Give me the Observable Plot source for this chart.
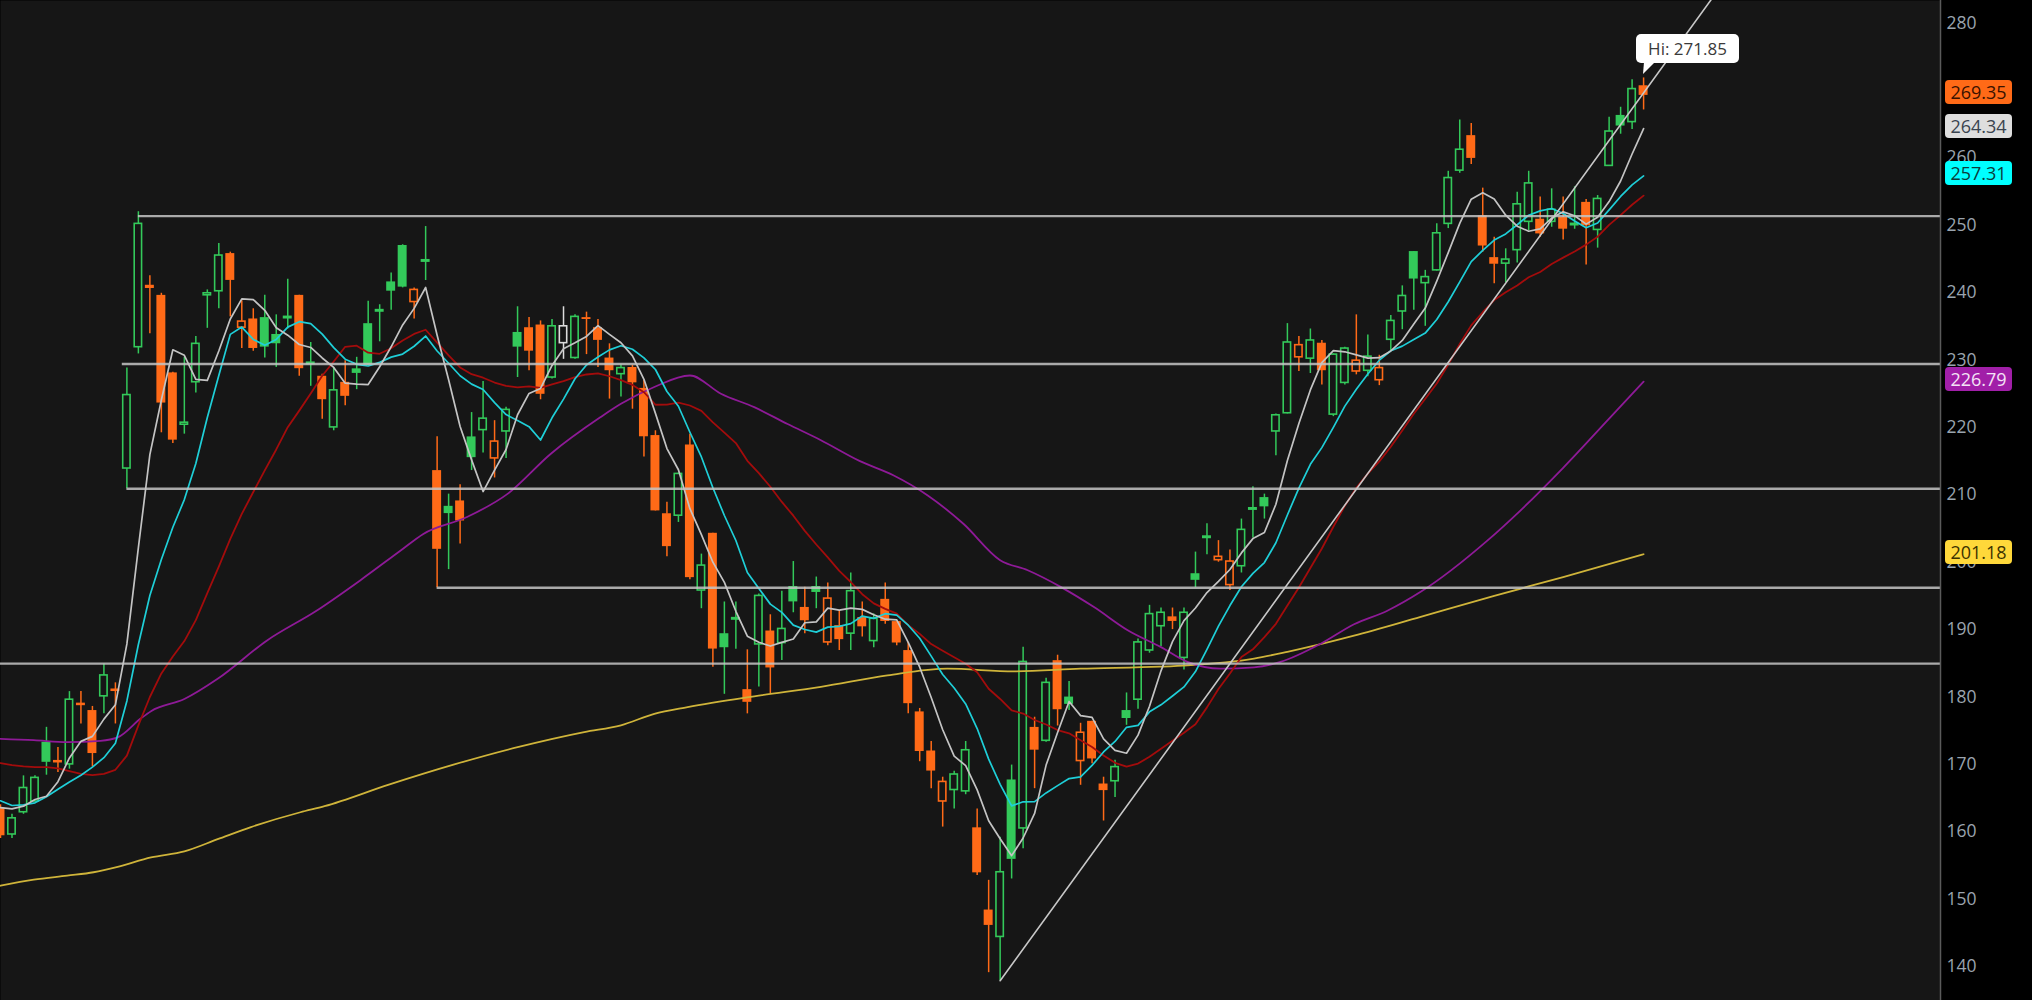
<!DOCTYPE html>
<html><head><meta charset="utf-8">
<script src="https://cdn.jsdelivr.net/npm/d3@7"></script>
<script src="https://cdn.jsdelivr.net/npm/@observablehq/plot@0.6"></script>
<style>
html,body{margin:0;padding:0;background:#000;}
#wrap{position:relative;width:2032px;height:1000px;overflow:hidden;font-family:"Open Sans",sans-serif;}
.badge{position:absolute;left:1945px;width:67px;height:24px;line-height:24px;border-radius:4px;text-align:center;font-size:18px;box-sizing:border-box;}
.hi{position:absolute;background:#fff;border-radius:5px;color:#3a3a3a;font-size:17px;height:29px;line-height:29px;padding:0 12px;white-space:nowrap;}
</style></head><body><div id="wrap"></div>
<script>
// ---- data ----
const opens = [163.4,159.6,162.9,164.5,173.2,170.5,170.0,179.0,177.9,180.1,181.1,213.9,231.9,241.0,239.5,228.0,220.4,226.7,239.6,240.2,245.7,234.8,236.0,236.2,233.7,236.2,239.5,229.4,227.5,220.0,226.6,228.6,235.3,237.2,241.5,246.9,238.6,244.6,213.5,208.2,209.0,218.5,219.6,215.4,219.4,234.0,234.7,235.1,227.4,232.5,230.3,236.2,234.7,230.2,227.9,228.8,225.7,218.7,207.1,206.9,217.3,195.8,204.2,189.3,191.5,181.0,187.8,189.7,188.0,196.3,193.2,196.3,188.1,190.5,189.4,191.7,188.3,194.4,191.1,186.8,177.7,171.9,164.5,166.2,166.0,160.5,148.3,144.4,167.6,160.5,175.4,173.5,185.3,179.9,170.5,176.3,167.0,167.5,177.9,179.6,186.9,190.5,191.8,185.8,198.2,203.6,200.3,196.6,199.4,207.8,209.5,219.4,222.1,230.4,230.2,232.4,221.9,226.6,228.3,228.4,227.0,233.0,237.2,246.0,241.4,243.3,250.2,258.1,263.2,251.3,245.1,244.3,246.3,250.5,250.8,250.5,251.1,250.0,253.3,249.3,258.8,266.2,265.3,270.6];
const highs = [164.0,162.6,168.3,168.3,175.5,172.5,180.8,180.8,178.6,184.9,182.1,228.8,252.0,242.5,239.9,228.2,230.4,233.5,240.4,247.3,246.0,238.8,237.6,239.6,236.7,242.0,239.6,232.6,227.9,228.9,229.9,230.4,238.7,238.2,242.9,247.1,240.7,249.8,218.6,210.1,211.5,222.2,226.8,221.0,223.0,237.9,236.3,235.8,236.0,237.9,236.7,237.1,236.0,232.4,229.3,229.2,227.0,219.5,208.9,213.2,219.0,201.2,204.3,194.1,194.1,187.0,195.3,192.2,195.7,200.1,196.3,197.8,196.9,192.8,198.4,194.1,192.3,196.9,191.3,188.1,178.3,173.4,168.1,169.0,173.4,163.4,152.8,159.2,169.9,187.4,177.0,182.8,186.2,182.3,176.1,176.4,168.1,170.6,180.6,188.6,193.6,193.2,193.2,193.2,201.5,205.7,203.2,201.8,206.4,211.2,210.1,222.0,235.4,233.5,234.6,232.9,230.9,231.9,236.7,233.7,230.7,236.6,241.0,246.1,243.3,250.2,258.0,265.6,265.1,255.5,248.2,246.5,254.9,258.0,254.2,255.4,254.2,255.7,253.8,254.4,266.0,267.5,271.6,271.85];
const lows = [159.0,159.0,162.6,164.4,168.4,168.8,169.3,176.0,169.6,177.5,176.0,210.9,230.9,233.9,219.2,217.6,219.0,225.1,234.7,237.6,236.4,231.7,231.3,230.3,228.9,234.6,227.6,226.1,221.2,219.5,223.2,225.6,229.2,232.7,237.4,240.7,236.1,241.8,196.2,198.9,202.7,213.6,216.2,212.5,215.4,227.4,228.4,224.1,227.2,230.1,230.1,230.8,228.9,224.2,224.5,222.7,215.6,207.6,200.8,205.9,197.4,193.1,184.4,180.4,187.1,177.5,181.5,180.5,185.4,192.5,189.4,193.1,187.6,186.9,186.9,188.9,187.3,190.8,187.6,177.5,170.4,166.4,160.7,163.4,165.5,153.5,139.1,137.9,153.0,157.5,166.4,173.3,175.7,178.0,166.9,170.1,161.6,165.1,175.8,178.2,186.5,187.5,190.0,184.0,196.2,201.1,200.0,195.8,198.4,203.6,206.4,215.8,222.0,228.3,228.0,226.3,221.6,226.3,227.8,227.5,226.2,231.4,234.5,237.4,235.0,243.2,249.5,257.7,259.0,246.0,241.3,241.5,244.4,249.2,248.2,249.7,247.8,249.4,244.1,246.6,258.7,263.5,264.2,267.1];
const closes = [159.5,162.0,166.5,168.0,170.4,170.3,179.6,178.8,171.7,183.2,180.9,224.8,250.2,240.7,223.7,218.2,220.7,232.4,239.9,245.5,241.9,235.7,231.8,232.0,232.5,236.4,228.8,229.6,224.2,225.5,224.7,228.1,229.3,237.4,240.3,240.9,240.4,244.8,202.0,207.3,206.2,215.6,221.3,217.9,222.6,232.0,231.4,225.0,235.0,235.0,236.4,236.1,233.0,228.5,228.8,226.7,218.7,207.7,202.4,213.1,197.8,199.5,187.2,187.4,191.7,179.3,195.0,184.4,190.1,194.2,191.4,195.6,194.6,188.6,195.7,190.5,191.6,191.3,188.1,179.1,172.0,169.1,167.4,168.5,172.1,154.0,146.2,154.0,156.0,185.2,172.2,182.1,178.2,179.0,174.7,170.9,166.2,169.6,176.9,188.1,192.3,192.5,191.3,192.5,197.4,203.8,200.8,200.1,204.8,208.0,208.3,221.8,232.6,232.2,232.9,228.5,230.8,231.7,229.9,230.5,228.8,235.8,239.5,242.1,242.3,248.8,257.0,261.2,260.0,247.0,244.3,244.9,253.1,256.2,248.8,252.3,249.5,250.2,250.0,253.9,263.9,264.8,270.2,269.35];
const prevClose0 = 163.6;

const ma5 = [163.6,163.4,163.8,164.8,165.28,167.44,170.96,173.42,174.16,176.72,178.84,187.88,202.16,215.96,224.06,231.52,230.70,227.14,226.98,231.34,236.08,239.08,238.96,237.38,234.78,233.68,232.30,231.86,230.30,228.90,226.56,226.42,226.36,229.00,231.96,235.20,237.66,240.76,233.68,227.08,220.14,215.18,210.48,213.66,216.72,221.88,225.04,225.78,229.20,231.68,232.56,233.50,235.10,233.80,232.56,230.62,227.14,222.08,216.86,213.72,207.94,204.10,200.00,197.00,192.72,189.02,188.12,187.56,188.10,188.60,191.02,191.14,193.18,192.88,193.18,193.00,192.20,191.54,191.44,188.12,184.42,179.92,175.14,171.22,169.82,166.22,161.64,158.96,156.46,159.08,162.72,169.90,174.74,179.34,177.24,176.98,173.80,172.08,171.66,174.34,178.62,183.88,188.22,191.34,193.20,195.50,197.16,198.92,201.38,203.50,204.40,208.60,215.10,220.58,225.56,229.60,231.40,231.22,230.76,230.28,230.34,231.34,232.90,235.34,237.70,241.70,245.94,250.28,253.86,254.80,253.90,251.48,249.86,249.10,249.46,251.06,251.98,251.40,250.16,251.18,253.50,256.56,260.56,264.34];
const ma10 = [164.6,163.9,164.0,164.3,165.2,166.3,167.4,168.4,169.6,171.00,173.14,179.42,187.79,195.06,200.39,205.18,209.29,214.65,221.47,227.70,233.80,234.89,233.05,232.18,233.06,234.88,235.69,235.41,233.84,231.84,230.12,229.36,229.11,229.65,230.43,230.88,232.04,233.56,231.34,229.52,227.67,226.42,225.62,223.67,221.90,221.01,220.11,218.13,221.43,224.20,227.22,229.27,230.44,231.50,232.12,231.59,230.32,228.59,225.33,223.14,219.28,215.62,211.04,206.93,203.22,198.48,196.11,193.78,192.55,190.66,190.02,189.63,190.37,190.49,190.89,192.01,191.67,192.36,192.16,190.65,188.71,186.06,183.34,181.33,178.97,175.32,170.78,167.05,163.84,164.45,164.47,165.77,166.85,167.90,168.16,169.85,171.85,173.41,175.50,175.79,177.80,178.84,180.15,181.50,183.77,187.06,190.52,193.57,196.36,198.35,199.95,202.88,207.01,210.98,214.53,217.00,220.00,223.16,225.67,227.92,229.97,231.37,232.06,233.05,233.99,236.02,238.64,241.59,244.60,246.25,247.80,248.71,250.07,251.48,252.13,252.48,251.73,250.63,249.63,250.32,252.28,254.27,255.98,257.31];
const ma20 = [170.2,169.9,169.7,169.6,169.6,169.4,169.0,168.6,168.4,168.6,169.2,171.3,175.8,180.0,183.5,186.0,188.3,191.4,195.4,199.35,203.47,207.16,210.42,213.62,216.73,220.03,222.49,225.03,227.66,229.77,231.96,232.13,231.08,230.92,231.75,232.88,233.87,234.49,232.59,230.68,228.90,227.89,227.37,226.66,226.17,225.95,226.08,225.85,226.39,226.86,227.45,227.85,228.03,227.59,227.01,226.30,225.22,223.36,223.38,223.67,223.25,222.45,220.74,219.22,217.67,215.04,213.22,211.19,208.94,206.90,204.65,202.63,200.71,198.71,197.06,195.25,193.89,193.07,192.36,190.66,189.37,187.85,186.86,185.91,184.93,183.67,181.23,179.71,178.00,177.55,176.59,175.92,175.10,174.62,173.57,172.59,171.32,170.23,169.67,170.12,171.14,172.31,173.50,174.70,175.97,178.46,181.19,183.49,185.93,187.07,188.88,190.86,193.58,196.24,199.15,202.03,205.26,208.37,211.02,213.14,214.96,217.13,219.54,222.02,224.26,226.51,229.32,232.38,235.14,237.09,238.89,240.04,241.07,242.27,243.06,244.25,245.19,246.11,247.12,248.29,250.04,251.49,253.03,254.39];
const ma50Idx = [0,2.9,5.8,8.7,10.2,12.2,13.1,16,18.9,23.2,27.5,31.3,34.8,36.8,40.6,44.1,47.9,52.2,54,56.9,60,62.7,65.6,68.5,71.4,74.8,77.7,80.7,83.8,87,89.4,92.3,95.2,98.1,101,103.3,106.2,109.1,111.4,114.9,117.8,120.7,123.6,129.4,132.3,136,140,143];
const ma50Val = [173.8,173.6,173.3,173.5,174.0,176.8,177.9,179.7,182.7,188.4,192.8,197.3,201.7,204.2,206.7,210.1,216.1,221.5,223.5,226.0,227.7,225.0,223.0,220.5,218.1,215.0,212.9,209.9,205.7,200.3,198.8,196.3,193.3,189.9,187.4,185.2,184.2,184.4,185.2,187.9,190.8,192.8,195.6,203.2,207.7,214.0,221.3,226.79];
const ma200Idx = [0,2.9,5.8,8.1,10.2,13.1,16,18.9,21.8,26.1,28.2,33.8,39.5,45.1,50.8,54,56.9,59.8,65.6,71.4,77.2,82.4,88.2,94,100.9,103.3,109.1,112,117.8,123.6,130,136,143];
const ma200Val = [152.0,152.9,153.5,154.0,154.8,156.2,157.1,158.9,160.7,162.9,163.8,167.0,170.0,172.6,174.8,175.8,177.5,178.5,180.1,181.5,183.2,184.2,183.8,184.2,184.5,184.7,185.7,186.7,189.1,191.9,195.0,197.8,201.18];
const levelPrice = [251.35,229.4,210.9,196.2,184.95];
const levelStart = [12,10.6,11,38,-1];
const trendIdx = [87,150];
const trendVal = [137.9,286.1];
// 270 is fully covered by the last-price badge in the reference, so it is not listed
const yTicks = [140,150,160,170,180,190,200,210,220,230,240,250,260,280];

// ---- styles ----
const GREEN = "#33c95a", ORANGE = "#ff6a17", NEUTRAL = "#dcdcdc";
const BW = 0.39;            // half body width in bar units
const X_MAX = 168.84;       // right edge of plotting area in bar units

const bars = closes.map((c, i) => ({i, o: opens[i], h: highs[i], l: lows[i], c, prev: i ? closes[i - 1] : prevClose0}));
const colorOf = d => d.c > d.prev ? GREEN : d.c < d.prev ? ORANGE : NEUTRAL;
const hollow = bars.filter(d => d.c >= d.o);
const solid = bars.filter(d => d.c < d.o);
const series = arr => arr.map((v, i) => ({x: i, v}));
const pairs = (xs, vs) => xs.map((x, k) => ({x, v: vs[k]}));
const levels = levelPrice.map((p, k) => ({p, s: levelStart[k]}));

const plot = Plot.plot({
  width: 2032, height: 1000,
  marginLeft: 0, marginRight: 92, marginTop: 0, marginBottom: 0,
  style: {background: "#000", fontFamily: "'Open Sans', sans-serif", color: "#9aa4ae", overflow: "hidden"},
  x: {type: "linear", domain: [0, X_MAX], axis: null},
  y: {domain: [134.97, 283.34], axis: null},
  color: {type: "identity"},
  marks: [
    Plot.frame({fill: "#161616", stroke: "none"}),
    Plot.axisY({anchor: "right", ticks: yTicks, tickSize: 0, tickPadding: 6, fontSize: 17.5, label: null, tickFormat: d => String(d), fill: "#9aa4ae"}),
    Plot.ruleX(bars, {x: "i", y1: "h", y2: d => Math.max(d.o, d.c), stroke: colorOf, strokeWidth: 1.5, clip: true}),
    Plot.ruleX(bars, {x: "i", y1: d => Math.min(d.o, d.c), y2: "l", stroke: colorOf, strokeWidth: 1.5, clip: true}),
    Plot.rect(solid, {x1: d => d.i - BW, x2: d => d.i + BW, y1: "o", y2: "c", fill: colorOf, insetTop: -0.6, insetBottom: -0.6, clip: true}),
    Plot.rect(hollow, {x1: d => d.i - BW, x2: d => d.i + BW, y1: "o", y2: "c", fill: "none", stroke: colorOf, strokeWidth: 1.6, insetLeft: 0.8, insetRight: 0.8, clip: true}),
    Plot.line(pairs(ma200Idx, ma200Val), {x: "x", y: "v", curve: "monotone-x", stroke: "#cfb43a", strokeWidth: 1.8, clip: true}),
    Plot.line(pairs(ma50Idx, ma50Val), {x: "x", y: "v", curve: "monotone-x", stroke: "#8e1a97", strokeWidth: 1.8, clip: true}),
    Plot.line(series(ma20), {x: "x", y: "v", stroke: "#a30c0c", strokeWidth: 1.8, clip: true}),
    Plot.line(series(ma10), {x: "x", y: "v", stroke: "#1fcfd8", strokeWidth: 1.7, clip: true}),
    Plot.line(series(ma5), {x: "x", y: "v", stroke: "#c4c4c4", strokeWidth: 1.7, clip: true}),
    Plot.ruleY(levels, {y: "p", x1: "s", x2: () => X_MAX, stroke: "#c4c4c4", strokeWidth: 2.4, strokeOpacity: 0.85, clip: true}),
    Plot.line(pairs(trendIdx, trendVal), {x: "x", y: "v", stroke: "#c8c8c8", strokeWidth: 1.6, clip: true}),
    Plot.ruleX([X_MAX], {stroke: "#5a5a5a", strokeWidth: 1.5})
  ]
});

const wrap = document.getElementById("wrap");
wrap.appendChild(plot);
const ys = plot.scale("y"), xs = plot.scale("x");

// price badges on the axis
const badges = [
  [closes[closes.length - 1], "#ff6a17", "#3a1200"],
  [ma5[ma5.length - 1], "#dedede", "#3b4450"],
  [ma10[ma10.length - 1], "#00ffff", "#0a3c3c"],
  [ma50Val[ma50Val.length - 1], "#a11fa8", "#f4e4f6"],
  [ma200Val[ma200Val.length - 1], "#ffd83a", "#3d3300"]
];
for (const [v, bg, fg] of badges) {
  const d = document.createElement("div");
  d.className = "badge";
  d.textContent = v.toFixed(2);
  d.style.background = bg;
  d.style.color = fg;
  d.style.top = (ys.apply(v) - 14) + "px";
  wrap.appendChild(d);
}

// high annotation
const hiIdx = d3.maxIndex(highs);
const hiVal = highs[hiIdx];
const tx = xs.apply(hiIdx), ty = ys.apply(hiVal);
const box = document.createElement("div");
box.className = "hi";
box.textContent = "Hi: " + hiVal.toFixed(2);
box.style.left = (tx - 7) + "px";
box.style.top = (ty - 43) + "px";
wrap.appendChild(box);
const ns = "http://www.w3.org/2000/svg";
const tail = document.createElementNS(ns, "svg");
tail.setAttribute("width", 20); tail.setAttribute("height", 14);
tail.style.position = "absolute";
tail.style.left = (tx - 1) + "px";
tail.style.top = (ty - 15) + "px";
const poly = document.createElementNS(ns, "polygon");
poly.setAttribute("points", "2,0 13,0 1,12");
poly.setAttribute("fill", "#fff");
tail.appendChild(poly);
wrap.appendChild(tail);
</script></body></html>
